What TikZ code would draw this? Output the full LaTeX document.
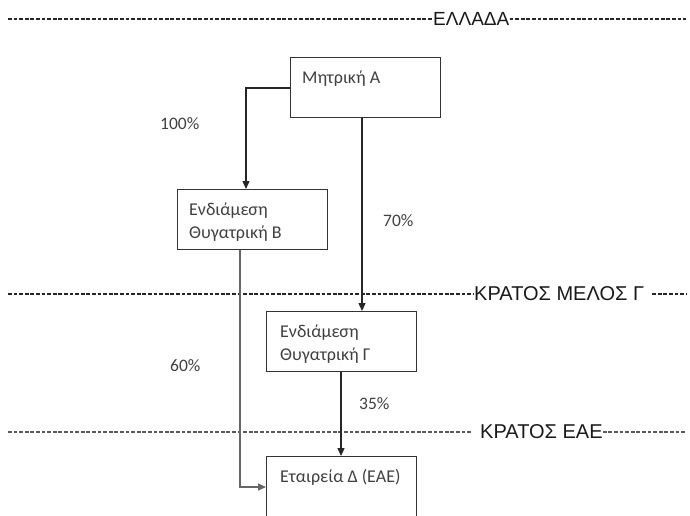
\documentclass[tikz,border=0pt]{standalone}
\usepackage{fontspec}
\setmainfont{Carlito}
\newfontfamily\lblfont{Liberation Sans}
\usetikzlibrary{arrows.meta,calc}
\tikzset{
  boxshape/.style={draw=black!80, line width=1pt, rectangle, minimum width=150pt, minimum height=60pt, anchor=north west, inner sep=0pt},
  boxtext/.style={anchor=base west, align=left, inner sep=0pt, text=black!75, font=\fontsize{18}{23}\selectfont},
  pct/.style={inner sep=0pt, text=black!75, font=\fontsize{17.5}{20}\selectfont},
  border/.style={line width=2.6pt, dash pattern=on 3.8pt off 1.8pt, black!85},
  borderlight/.style={line width=2.3pt, dash pattern=on 3.8pt off 1.8pt, black!65},
  lbl/.style={inner sep=0pt, font=\lblfont\fontsize{20}{22}\selectfont, text=black!90},
  conn/.style={line width=1.3pt, black!85, -{Triangle[length=8pt,width=7pt]}}
}
\begin{document}
\begin{tikzpicture}[x=1pt,y=-1pt]
\useasboundingbox (0,0) rectangle (690,515);
\clip (0,0) rectangle (690,515);
% boundary lines
\node[lbl, anchor=west, font=\lblfont\fontsize{19}{22}\selectfont] (ell) at (433,19) {ΕΛΛΑΔΑ};
\coordinate (t0) at (8,19); \coordinate (t1) at (686,19);
\draw[border] (t0) -- (ell.west);
\draw[border] (ell.east) -- (t1);
\node[lbl, anchor=west] (kmg) at (474,294) {ΚΡΑΤΟΣ ΜΕΛΟΣ Γ};
\coordinate (m0) at (8,294); \coordinate (m1) at (686,294);
\draw[border] (m0) -- (kmg.west);
\draw[border] ($(kmg.east)+(8,0)$) -- (m1);
\node[lbl, anchor=west] (kea) at (480,432) {ΚΡΑΤΟΣ ΕΑΕ};
\coordinate (l0) at (8,432); \coordinate (l1) at (686,432);
\draw[borderlight] (l0) -- ($(kea.west)+(-9,0)$);
\draw[borderlight] (kea.east) -- (l1);
% boxes
\node[boxshape] (A) at (290,57) {};
\node[boxtext] (At) at (302,83) {Μητρική Α};
\node[boxshape] (B) at (177,189) {};
\node[boxtext] (Bt) at (189,238) {Ενδιάμεση\\Θυγατρική Β};
\node[boxshape] (G) at (266,311) {};
\node[boxtext] (Gt) at (280,360) {Ενδιάμεση\\Θυγατρική Γ};
\node[boxshape, minimum height=80pt] (D) at (266,456) {};
\node[boxtext] (Dt) at (280,482) {Εταιρεία Δ (ΕΑΕ)};
% connectors
\coordinate (a1) at (246,88);
\draw[conn] (A.west |- a1) -| (B.north -| a1);
\draw[conn] (A.south -| 362,0) -- (G.north -| 362,0);
\coordinate (b1) at (240,487);
\draw[conn, black!60] (B.south -| b1) |- (D.west |- b1);
\draw[conn] (G.south -| 341,0) -- (D.north -| 341,0);
% percentages
\node[pct, anchor=west] (p100) at (160,124) {100\%};
\node[pct, anchor=west] (p70) at (383,221) {70\%};
\node[pct, anchor=west] (p60) at (170,366) {60\%};
\node[pct, anchor=west] (p35) at (359,404) {35\%};
\end{tikzpicture}
\end{document}
